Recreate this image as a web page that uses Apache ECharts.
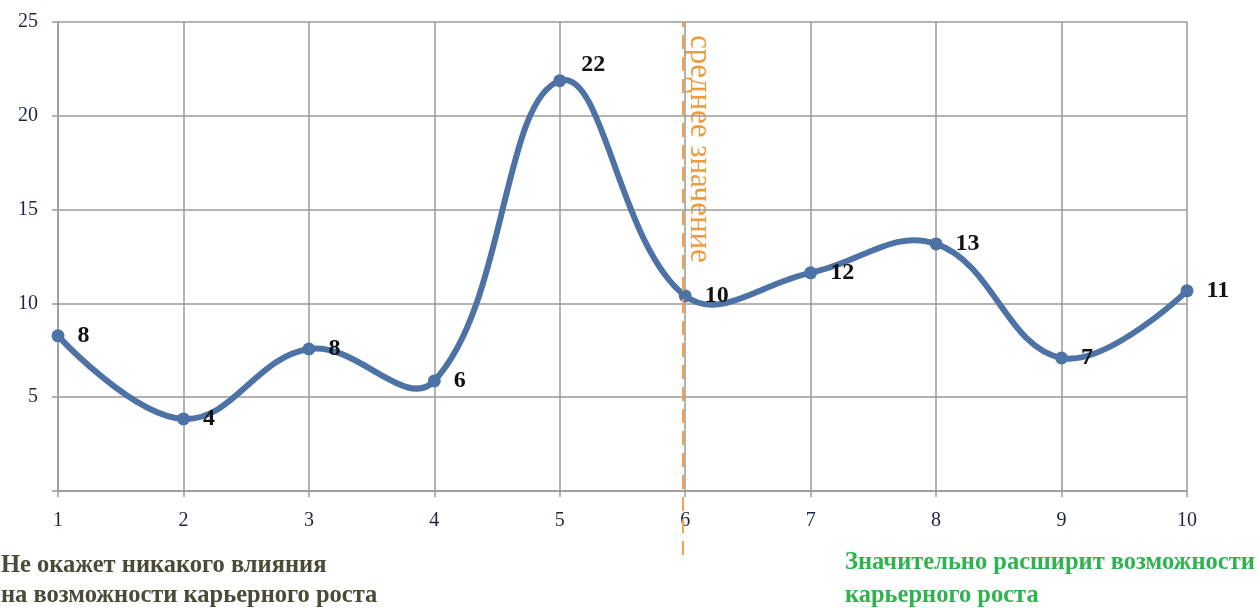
<!DOCTYPE html>
<html><head><meta charset="utf-8">
<script src="https://cdn.jsdelivr.net/npm/echarts@6/dist/echarts.min.js"></script>
<style>html,body{margin:0;padding:0;background:#fff}#c{width:1259px;height:608px}</style>
</head><body><div id="c"></div>
<script>
const xValues = [1, 2, 3, 4, 5, 6, 7, 8, 9, 10];
const yValues = [8.27, 3.84, 7.57, 5.87, 21.87, 10.4, 11.63, 13.17, 7.09, 10.67];
const pointLabels = ['8', '4', '8', '6', '22', '10', '12', '13', '7', '11'];
const yTicks = [0, 5, 10, 15, 20, 25];
const meanX = 5.98;
const meanText = 'среднее значение';
const leftNote = 'Не окажет никакого влияния\nна возможности карьерного роста';
const rightNote = 'Значительно расширит возможности\nкарьерного роста';

const serif = '"Liberation Serif", "DejaVu Serif", serif';
const blue = '#4d72a6';
const chart = echarts.init(document.getElementById('c'));
const pts = xValues.map((x, i) => {
  const d = { value: [x, yValues[i]], label: { formatter: pointLabels[i] } };
  if (i === 4) d.label.offset = [2, -16];
  return d;
});
chart.setOption({
  animation: false,
  grid: [
    { left: 58, top: 22, width: 1129, height: 469 },
    { left: 58, top: 22, width: 1129, height: 533 }
  ],
  xAxis: [
    { gridIndex: 0, type: 'value', min: 1, max: 10, interval: 1,
      axisLine: { show: true, lineStyle: { color: '#9a9a9a', width: 1.5 } },
      axisTick: { show: true, length: 6, lineStyle: { color: '#9a9a9a', width: 1.5 } },
      axisLabel: { fontFamily: serif, fontSize: 20, color: '#1f2540', margin: 20 },
      splitLine: { show: true, lineStyle: { color: '#9a9a9a', width: 1.5 } } },
    { gridIndex: 1, type: 'value', min: 1, max: 10, show: false }
  ],
  yAxis: [
    { gridIndex: 0, type: 'value', min: yTicks[0], max: yTicks[yTicks.length - 1], interval: 5,
      axisLine: { show: true, lineStyle: { color: '#9a9a9a', width: 1.5 } },
      axisTick: { show: true, length: 6, lineStyle: { color: '#9a9a9a', width: 1.5 } },
      axisLabel: { fontFamily: serif, fontSize: 20, color: '#1f2540', margin: 20,
        formatter: v => v === 0 ? '' : String(v) },
      splitLine: { show: true, lineStyle: { color: '#9a9a9a', width: 1.5 } } },
    { gridIndex: 1, type: 'value', min: 0, max: 1, show: false }
  ],
  series: [
    { type: 'custom', xAxisIndex: 0, yAxisIndex: 0, data: [[xValues[0], yValues[0]]],
      z: 2, silent: true,
      renderItem: function (params, api) {
        const points = xValues.map((x, i) => api.coord([x, yValues[i]]));
        return { type: 'polyline', shape: { points: points, smooth: 0.4 },
          style: { stroke: blue, lineWidth: 6, fill: 'none', lineJoin: 'round', lineCap: 'round' } };
      } },
    { type: 'scatter', xAxisIndex: 0, yAxisIndex: 0, data: pts,
      symbol: 'circle', symbolSize: 13, z: 3,
      itemStyle: { color: blue, opacity: 1 },
      label: { show: true, position: 'right', distance: 13, fontFamily: serif,
        fontSize: 24, fontWeight: 'bold', color: '#111' } },
    { type: 'line', xAxisIndex: 1, yAxisIndex: 1, data: [], symbol: 'none',
      markLine: { silent: true, symbol: 'none', label: { show: false },
        lineStyle: { color: '#f0a24c', type: [14, 8], width: 2 },
        data: [{ xAxis: meanX }] } }
  ],
  graphic: [
    { type: 'text', x: 684, y: 35, rotation: -Math.PI / 2,
      style: { text: meanText, fontFamily: serif, fontSize: 31, fill: '#ef9a3c',
        textAlign: 'left', textVerticalAlign: 'bottom' } },
    { type: 'text', left: 1, top: 551,
      style: { text: leftNote, fontFamily: serif, fontSize: 24.5, fontWeight: 'bold',
        fill: '#4a4a38', lineHeight: 30 } },
    { type: 'text', left: 845, top: 546,
      style: { text: rightNote, fontFamily: serif, fontSize: 24.5, fontWeight: 'bold',
        fill: '#2fb34f', lineHeight: 33 } }
  ]
});
</script></body></html>
